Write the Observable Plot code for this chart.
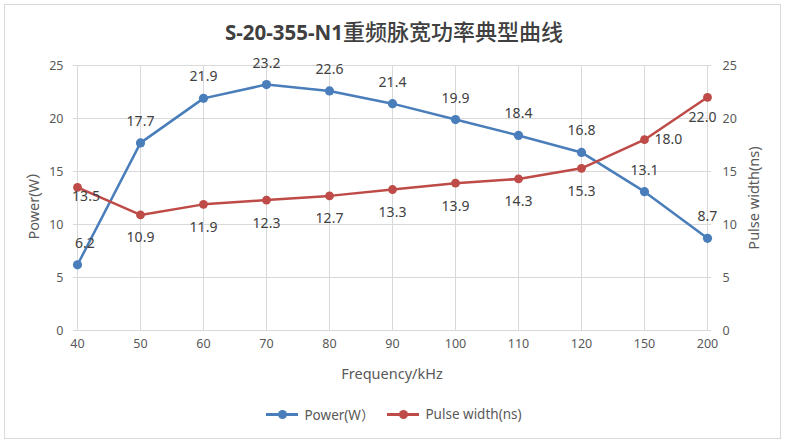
<!DOCTYPE html>
<html>
<head>
<meta charset="utf-8">
<script src="https://cdn.jsdelivr.net/npm/d3@7"></script>
<script src="https://cdn.jsdelivr.net/npm/@observablehq/plot@0.6"></script>
<style>
  html, body { margin: 0; padding: 0; background: #fff; }
  #wrap { position: relative; width: 788px; height: 446px; overflow: hidden;
          font-family: "Noto Sans", "Noto Sans CJK SC", sans-serif; }
  #border { position: absolute; left: 4px; top: 4px; width: 777px; height: 435px;
            box-sizing: border-box; border: 1.5px solid #d9d9d9; }
  #title { position: absolute; left: 0; top: 14px; width: 788px; text-align: center;
           color: #404040; line-height: 32px; white-space: nowrap; }
  #title .lat { font-family: "Noto Sans", sans-serif; font-weight: 700; font-size: 20.5px; }
  #title .cjk { font-family: "Noto Sans CJK SC", sans-serif; font-weight: 500; font-size: 22px; }
  #chart { position: absolute; left: 0; top: 48px; }
  .axtitle { position: absolute; width: 200px; height: 20px; line-height: 20px; text-align: center;
             font-size: 14.5px; color: #595959; white-space: nowrap; }
  #legend { position: absolute; left: 0; top: 404px; width: 788px; display: flex;
            justify-content: center; align-items: center; gap: 13px;
            font-size: 13.5px; color: #595959; }
  .item { display: flex; align-items: center; gap: 6px; }
  .sw { position: relative; width: 32px; height: 10px; }
  .sw .ln { position: absolute; left: 0; top: 4px; width: 32px; height: 2.5px; }
  .sw .dt { position: absolute; left: 11.5px; top: 0.5px; width: 9px; height: 9px; border-radius: 50%; }
</style>
</head>
<body>
<div id="wrap">
  <div id="border"></div>
  <div id="title"><span class="lat">S-20-355-N1</span><span class="cjk">重频脉宽功率典型曲线</span></div>
  <div id="chart"></div>
  <div class="axtitle" id="xtitle" style="left:292px; top:363px;"></div>
  <div class="axtitle" id="ytitleL" style="left:-67px; top:192px; transform: rotate(-90deg);"></div>
  <div class="axtitle" id="ytitleR" style="left:653px; top:188px; transform: rotate(-90deg);"></div>
  <div id="legend"></div>
</div>
<script>
// Repetition frequency (kHz), shown as evenly spaced categories
const frequency = ["40", "50", "60", "70", "80", "90", "100", "110", "120", "150", "200"];
// Output power (W)
const power = [6.2, 17.7, 21.9, 23.2, 22.6, 21.4, 19.9, 18.4, 16.8, 13.1, 8.7];
// Pulse width (ns)
const pulseWidth = [13.5, 10.9, 11.9, 12.3, 12.7, 13.3, 13.9, 14.3, 15.3, 18.0, 22.0];
// Shared tick values for both vertical axes
const yTicks = [0, 5, 10, 15, 20, 25];

const seriesNames = ["Power(W）", "Pulse width(ns)"];
const xTitle = "Frequency/kHz";
const blue = "#4a7ebb";
const red = "#be4b48";

const powerRows = frequency.map((f, i) => ({f, v: power[i]}));
const pulseRows = frequency.map((f, i) => ({f, v: pulseWidth[i]}));
const last = frequency.length - 1;

const labelStyle = {x: "f", y: "v", text: d => d.v.toFixed(1), fill: "#404040", fontSize: 14};
const tickStyle = {tickSize: 0, tickPadding: 10, fontSize: 12.5, color: "#595959", label: null};

const chart = Plot.plot({
  width: 788,
  height: 350,
  marginLeft: 73,
  marginRight: 77,
  marginTop: 17,
  marginBottom: 68,
  style: {fontFamily: "'Noto Sans', 'Noto Sans CJK SC', sans-serif", background: "transparent"},
  x: {type: "point", domain: frequency, padding: 0},
  y: {domain: [0, 25]},
  marks: [
    Plot.gridY(yTicks, {stroke: "#d9d9d9", strokeOpacity: 1}),
    Plot.gridX(frequency, {stroke: "#d9d9d9", strokeOpacity: 1}),
    Plot.axisX({...tickStyle, tickPadding: 9}),
    Plot.axisY(yTicks, {...tickStyle, anchor: "left"}),
    Plot.axisY(yTicks, {...tickStyle, anchor: "right", tickPadding: 11}),
    // Power series
    Plot.line(powerRows, {x: "f", y: "v", stroke: blue, strokeWidth: 2.5}),
    Plot.dot(powerRows, {x: "f", y: "v", fill: blue, r: 4.6}),
    // Pulse width series
    Plot.line(pulseRows, {x: "f", y: "v", stroke: red, strokeWidth: 2.5}),
    Plot.dot(pulseRows, {x: "f", y: "v", fill: red, r: 4.4}),
    // Value labels: power above its points
    Plot.text(powerRows.slice(0, 1), {...labelStyle, dx: 7.5, dy: -21}),
    Plot.text(powerRows.slice(1), {...labelStyle, dy: -21.5}),
    // Value labels: pulse width below its points, with edge labels nudged inward
    Plot.text(pulseRows.slice(0, 1), {...labelStyle, dx: 8.5, dy: 9}),
    Plot.text(pulseRows.slice(1, last - 1), {...labelStyle, dy: 23}),
    Plot.text(pulseRows.slice(last - 1, last), {...labelStyle, textAnchor: "start", dx: 10}),
    Plot.text(pulseRows.slice(last), {...labelStyle, dx: -5, dy: 20})
  ]
});
document.getElementById("chart").appendChild(chart);

// Axis titles
document.getElementById("xtitle").textContent = xTitle;
document.getElementById("ytitleL").textContent = seriesNames[0];
document.getElementById("ytitleR").textContent = seriesNames[1];

// Legend below the plot
const legend = document.getElementById("legend");
[[seriesNames[0], blue], [seriesNames[1], red]].forEach(([name, color]) => {
  const item = document.createElement("div");
  item.className = "item";
  item.innerHTML = `<div class="sw"><div class="ln" style="background:${color}"></div>` +
                   `<div class="dt" style="background:${color}"></div></div><span>${name}</span>`;
  legend.appendChild(item);
});
</script>
</body>
</html>
